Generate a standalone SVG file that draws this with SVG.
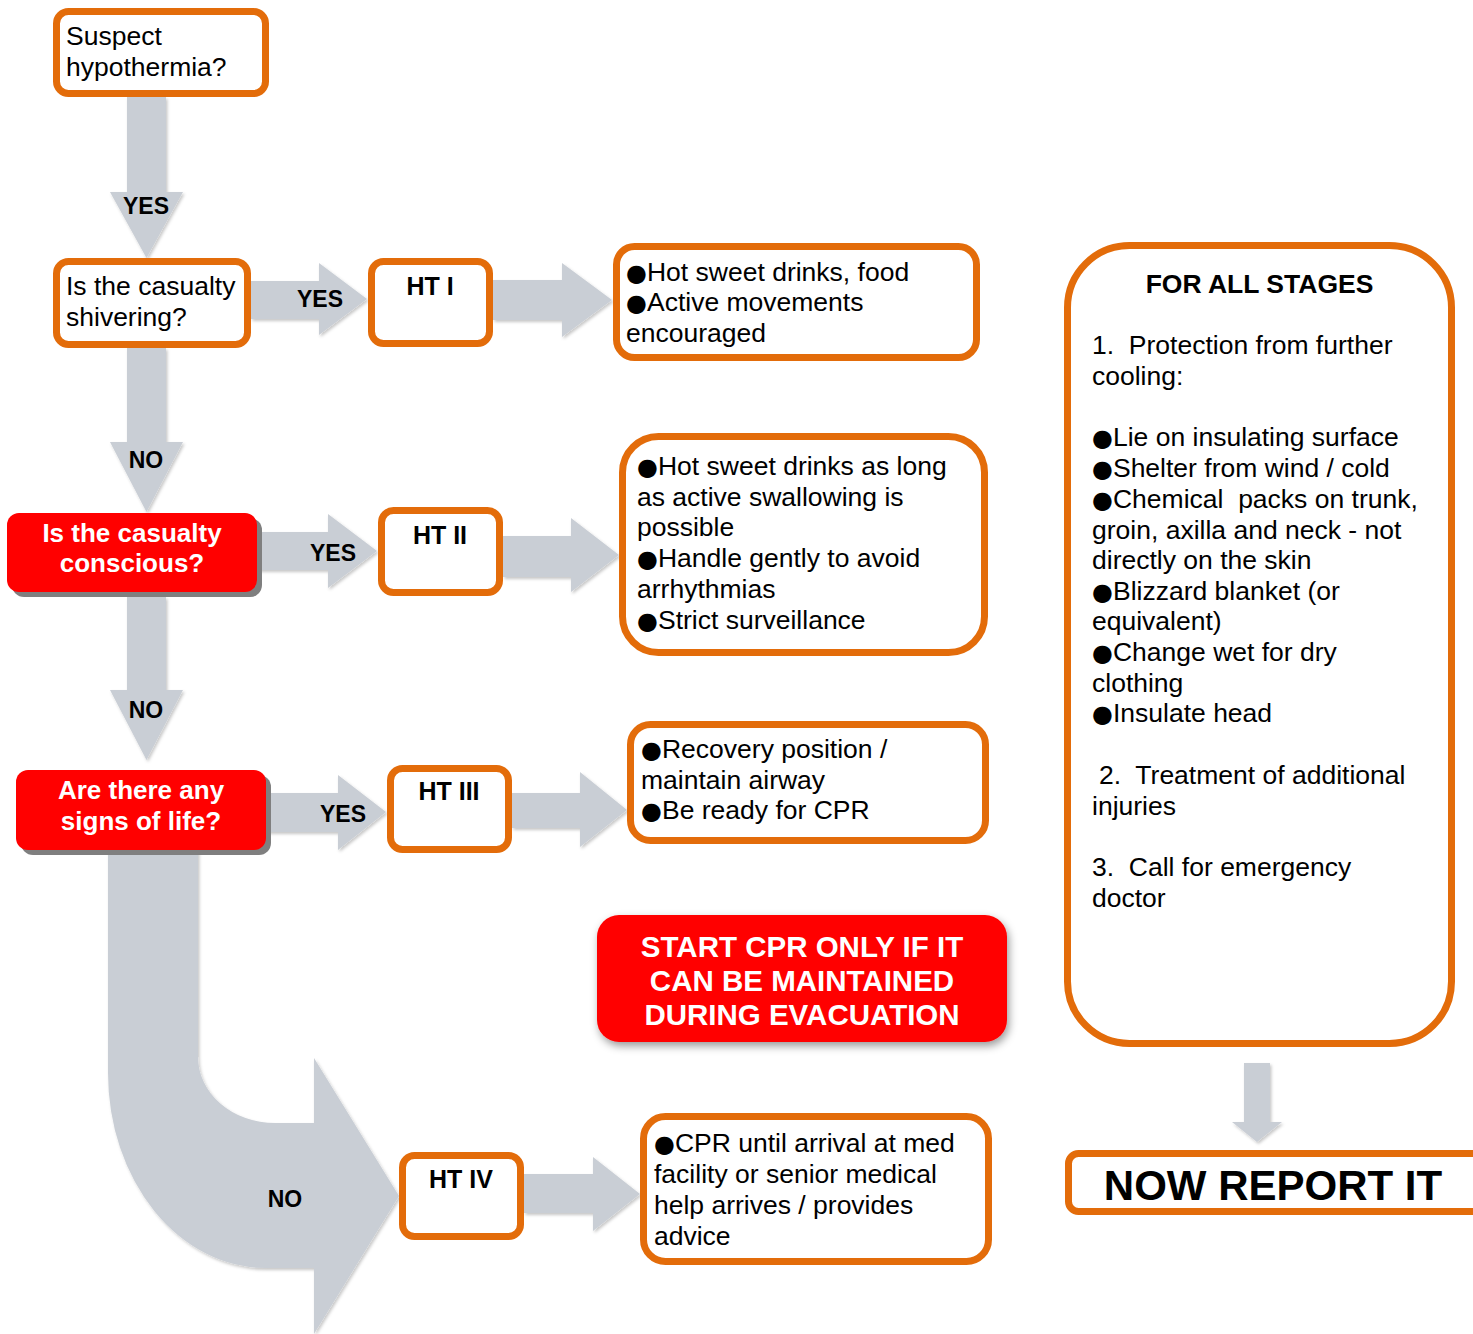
<svg xmlns="http://www.w3.org/2000/svg" width="1473" height="1334" viewBox="0 0 1473 1334">
<style>
text{font-family:"Liberation Sans",Arial,sans-serif;fill:#000}
.t{font-size:26.5px}
.bu{font-family:"DejaVu Sans",sans-serif;font-size:24px}
.b{font-weight:bold}
.lbl{font-size:23px;font-weight:bold;text-anchor:middle}
.ht{font-size:25px;font-weight:bold;text-anchor:middle}
.wt{font-size:26px;font-weight:bold;fill:#fff;text-anchor:middle}
.ob{fill:#fff;stroke:#E36C0A;stroke-width:7}
.red{fill:#FF0000}
.sh{fill:#7F7F7F}
.arr{fill:#C9CED5;filter:url(#ash)}
</style>
<defs>
<filter id="ash" x="-10%" y="-10%" width="130%" height="130%">
<feDropShadow dx="1.5" dy="2" stdDeviation="1.5" flood-color="#000" flood-opacity="0.22"/>
</filter>
<filter id="rsh" x="-10%" y="-10%" width="130%" height="140%">
<feDropShadow dx="2" dy="4" stdDeviation="4" flood-color="#000" flood-opacity="0.4"/>
</filter>
</defs>
<rect width="1473" height="1334" fill="#fff"/>

<g id="connectors">
<polygon class="arr" points="127,97 166,97 166,192 183,192 146.5,258 110,192 127,192"/>
<polygon class="arr" points="127,348 166,348 166,442 183,442 146.5,512 110,442 127,442"/>
<polygon class="arr" points="127,597 166,597 166,690 183,690 146.5,760 110,690 127,690"/>
<polygon class="arr" points="251,281 319,281 319,263 367,299 319,335 319,319 251,319"/>
<polygon class="arr" points="493,280 562,280 562,263 612,300 562,337 562,320 493,320"/>
<polygon class="arr" points="257,532 328,532 328,514 377,551 328,588 328,570 257,570"/>
<polygon class="arr" points="503,536 571,536 571,518 619,555 571,592 571,577 503,577"/>
<polygon class="arr" points="266,793 338,793 338,775 386,812 338,850 338,832 266,832"/>
<polygon class="arr" points="512,793 580,793 580,772 627,810 580,847 580,828 512,828"/>
<polygon class="arr" points="524,1174 593,1174 593,1157 640,1194 593,1231 593,1213 524,1213"/>
<path class="arr" d="M108,850 L198,850 L198,1057 A77,66 0 0 0 275,1123 L314,1123 L314,1058 L399,1196 L314,1334 L314,1268 L266,1268 A158,195 0 0 1 108,1073 Z"/>
<polygon class="arr" points="1244,1063 1270,1063 1270,1122 1282,1122 1257,1142 1232,1122 1244,1122"/>
<text class="lbl" x="146" y="214">YES</text>
<text class="lbl" x="146" y="468">NO</text>
<text class="lbl" x="146" y="718">NO</text>
<text class="lbl" x="320" y="307">YES</text>
<text class="lbl" x="333" y="561">YES</text>
<text class="lbl" x="343" y="822">YES</text>
<text class="lbl" x="285" y="1207">NO</text>
</g>

<g id="suspect">
<rect class="ob" x="56.5" y="11.5" width="209" height="82" rx="12"/>
<text class="t" x="66" y="45">Suspect</text>
<text class="t" x="66" y="76">hypothermia?</text>
</g>

<g id="shivering">
<rect class="ob" x="56.5" y="261.5" width="191" height="83" rx="12"/>
<text class="t" x="66" y="295">Is the casualty</text>
<text class="t" x="66" y="326">shivering?</text>
</g>

<g id="conscious">
<rect class="sh" x="12" y="518" width="250" height="79" rx="12"/>
<rect class="red" x="7" y="513" width="250" height="79" rx="12"/>
<text class="wt" x="132" y="542">Is the casualty</text>
<text class="wt" x="132" y="572">conscious?</text>
</g>

<g id="signs">
<rect class="sh" x="21" y="775" width="250" height="80" rx="12"/>
<rect class="red" x="16" y="770" width="250" height="80" rx="12"/>
<text class="wt" x="141" y="799">Are there any</text>
<text class="wt" x="141" y="830">signs of life?</text>
</g>

<g id="ht1">
<rect class="ob" x="371.5" y="261.5" width="118" height="82" rx="12"/>
<text class="ht" x="430" y="295">HT I</text>
</g>
<g id="ht2">
<rect class="ob" x="381.5" y="510.5" width="118" height="82" rx="12"/>
<text class="ht" x="440" y="544">HT II</text>
</g>
<g id="ht3">
<rect class="ob" x="390.5" y="768.5" width="118" height="81" rx="12"/>
<text class="ht" x="449" y="800">HT III</text>
</g>
<g id="ht4">
<rect class="ob" x="402.5" y="1155.5" width="118" height="81" rx="12"/>
<text class="ht" x="461" y="1188">HT IV</text>
</g>

<g id="r1">
<rect class="ob" x="616.5" y="246.5" width="360" height="111" rx="18"/>
<text class="t" x="626" y="281"><tspan class="bu">●</tspan>Hot sweet drinks, food</text>
<text class="t" x="626" y="311"><tspan class="bu">●</tspan>Active movements</text>
<text class="t" x="626" y="342">encouraged</text>
</g>

<g id="r2">
<rect class="ob" x="622.5" y="436.5" width="362" height="216" rx="36"/>
<text class="t" x="637" y="475"><tspan class="bu">●</tspan>Hot sweet drinks as long</text>
<text class="t" x="637" y="506">as active swallowing is</text>
<text class="t" x="637" y="536">possible</text>
<text class="t" x="637" y="567"><tspan class="bu">●</tspan>Handle gently to avoid</text>
<text class="t" x="637" y="598">arrhythmias</text>
<text class="t" x="637" y="629"><tspan class="bu">●</tspan>Strict surveillance</text>
</g>

<g id="r3">
<rect class="ob" x="630.5" y="724.5" width="355" height="116" rx="20"/>
<text class="t" x="641" y="758"><tspan class="bu">●</tspan>Recovery position /</text>
<text class="t" x="641" y="789">maintain airway</text>
<text class="t" x="641" y="819"><tspan class="bu">●</tspan>Be ready for CPR</text>
</g>

<g id="r4">
<rect class="ob" x="643.5" y="1116.5" width="345" height="145" rx="22"/>
<text class="t" x="654" y="1152"><tspan class="bu">●</tspan>CPR until arrival at med</text>
<text class="t" x="654" y="1183">facility or senior medical</text>
<text class="t" x="654" y="1214">help arrives / provides</text>
<text class="t" x="654" y="1245">advice</text>
</g>

<g id="cpr-warning">
<rect class="red" x="597" y="915" width="410" height="127" rx="22" filter="url(#rsh)"/>
<text class="wt" style="font-size:29.5px" x="802" y="957">START CPR ONLY IF IT</text>
<text class="wt" style="font-size:29.5px" x="802" y="991">CAN BE MAINTAINED</text>
<text class="wt" style="font-size:29.5px" x="802" y="1025">DURING EVACUATION</text>
</g>

<g id="all-stages">
<rect class="ob" x="1067.5" y="245.5" width="384" height="798" rx="62"/>
<text class="b" style="font-size:26.5px;text-anchor:middle" x="1259.5" y="293">FOR ALL STAGES</text>
<text class="t" xml:space="preserve" x="1092" y="354">1.  Protection from further</text>
<text class="t" x="1092" y="385">cooling:</text>
<text class="t" x="1092" y="446"><tspan class="bu">●</tspan>Lie on insulating surface</text>
<text class="t" x="1092" y="477"><tspan class="bu">●</tspan>Shelter from wind / cold</text>
<text class="t" xml:space="preserve" x="1092" y="508"><tspan class="bu">●</tspan>Chemical  packs on trunk,</text>
<text class="t" x="1092" y="539">groin, axilla and neck - not</text>
<text class="t" x="1092" y="569">directly on the skin</text>
<text class="t" x="1092" y="600"><tspan class="bu">●</tspan>Blizzard blanket (or</text>
<text class="t" x="1092" y="630">equivalent)</text>
<text class="t" x="1092" y="661"><tspan class="bu">●</tspan>Change wet for dry</text>
<text class="t" x="1092" y="692">clothing</text>
<text class="t" x="1092" y="722"><tspan class="bu">●</tspan>Insulate head</text>
<text class="t" xml:space="preserve" x="1099" y="784">2.  Treatment of additional</text>
<text class="t" x="1092" y="815">injuries</text>
<text class="t" xml:space="preserve" x="1092" y="876">3.  Call for emergency</text>
<text class="t" x="1092" y="907">doctor</text>
</g>

<g id="report">
<rect class="ob" x="1068.5" y="1153.5" width="420" height="58" rx="10"/>
<text class="b" style="font-size:42px;text-anchor:middle" x="1273" y="1200">NOW REPORT IT</text>
</g>
</svg>
